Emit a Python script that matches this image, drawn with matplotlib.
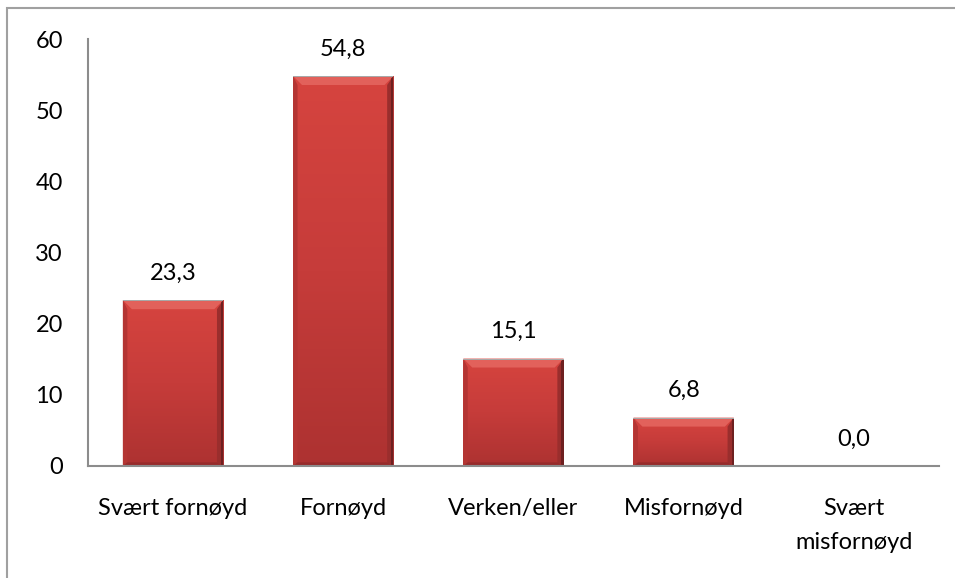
import numpy as np
import matplotlib.pyplot as plt
from matplotlib.patches import Rectangle, Polygon
from matplotlib.colors import LinearSegmentedColormap

# data
kategorier = ['Svært fornøyd', 'Fornøyd', 'Verken/eller', 'Misfornøyd', 'Svært\nmisfornøyd']
verdier = [23.3, 54.8, 15.1, 6.8, 0.0]
y_ticks = [0, 10, 20, 30, 40, 50, 60]

plt.rcParams['font.family'] = ['Lato', 'DejaVu Sans']
fs = 17

fig = plt.figure(figsize=(9.55, 5.78), dpi=100)
ax = fig.add_axes([0.0921, 0.1938, 0.8911, 0.7387])

# ramme rundt hele figuren (bare venstre og topp synlig)
fig.patches.append(Rectangle((7 / 955, -0.1), 1.2, 1 - 8 / 578 + 0.1,
                             transform=fig.transFigure, fill=False,
                             edgecolor='#a0a0a0', lw=1.5, zorder=0))

x = np.arange(len(kategorier))
bredde = 0.59
bars = ax.bar(x, verdier, width=bredde, color='#c23a38', zorder=2)

ax.set_xlim(-0.5, len(kategorier) - 0.5)
ax.set_ylim(0, 60)

# gradient og skråkant på hver stolpe
grad = np.linspace(0, 1, 256).reshape(-1, 1)
cmap = LinearSegmentedColormap.from_list('rod', ['#ad3231', '#c63c3a', '#d6443f'])
dy = 9 / (427 / 60)
dx = 9 / (851 / 5)
for b, v in zip(bars, verdier):
    if v <= 0:
        continue
    x0, x1 = b.get_x(), b.get_x() + b.get_width()
    im = ax.imshow(grad, extent=(x0, x1, 0, v), origin='lower', cmap=cmap,
                   aspect='auto', zorder=3)
    im.set_clip_path(b)
    # høyre side mørk
    ax.add_patch(Polygon([(x1, v), (x1, 0), (x1 - dx * 0.7, dy * 0.4), (x1 - dx * 0.7, v - dy)],
                         closed=True, facecolor='#9a2e2d', edgecolor='none', zorder=4))
    ax.add_patch(Rectangle((x1 - dx * 0.25, 0), dx * 0.25, v, facecolor='#6e2020',
                           edgecolor='none', zorder=4))
    # venstre side
    ax.add_patch(Polygon([(x0, v), (x0, 0), (x0 + dx * 0.5, dy * 0.4), (x0 + dx * 0.5, v - dy)],
                         closed=True, facecolor='#b43533', edgecolor='none', zorder=4))
    # bunn
    ax.add_patch(Polygon([(x0, 0), (x1, 0), (x1 - dx * 0.7, dy * 0.4), (x0 + dx * 0.5, dy * 0.4)],
                         closed=True, facecolor='#962b2b', edgecolor='none', zorder=4))
    # topp-skrå
    ax.add_patch(Polygon([(x0, v), (x1, v), (x1 - dx, v - dy), (x0 + dx, v - dy)],
                         closed=True, facecolor='#e2615b', edgecolor='none', zorder=5))
    ax.add_patch(Rectangle((x0, v - 0.15), x1 - x0, 0.15, facecolor='#a8a8a8',
                           edgecolor='none', zorder=5))

for xi, v in zip(x, verdier):
    ax.annotate(f'{v:.1f}'.replace('.', ','), (xi, v), xytext=(0, 27 * 0.72),
                textcoords='offset points', ha='center', va='center', fontsize=fs)

ax.set_xticks(x)
ax.set_xticklabels(kategorier, fontsize=fs, linespacing=1.75)
ax.set_yticks(y_ticks)
ax.set_yticklabels([str(t) for t in y_ticks], fontsize=fs)
ax.tick_params(axis='both', length=0)
ax.tick_params(axis='y', pad=18)
ax.tick_params(axis='x', pad=23)

for s in ['top', 'right']:
    ax.spines[s].set_visible(False)
for s in ['left', 'bottom']:
    ax.spines[s].set_color('#8c8c8c')
    ax.spines[s].set_linewidth(1.5)
    ax.spines[s].set_zorder(6)

fig.savefig('out.png', dpi=100)
